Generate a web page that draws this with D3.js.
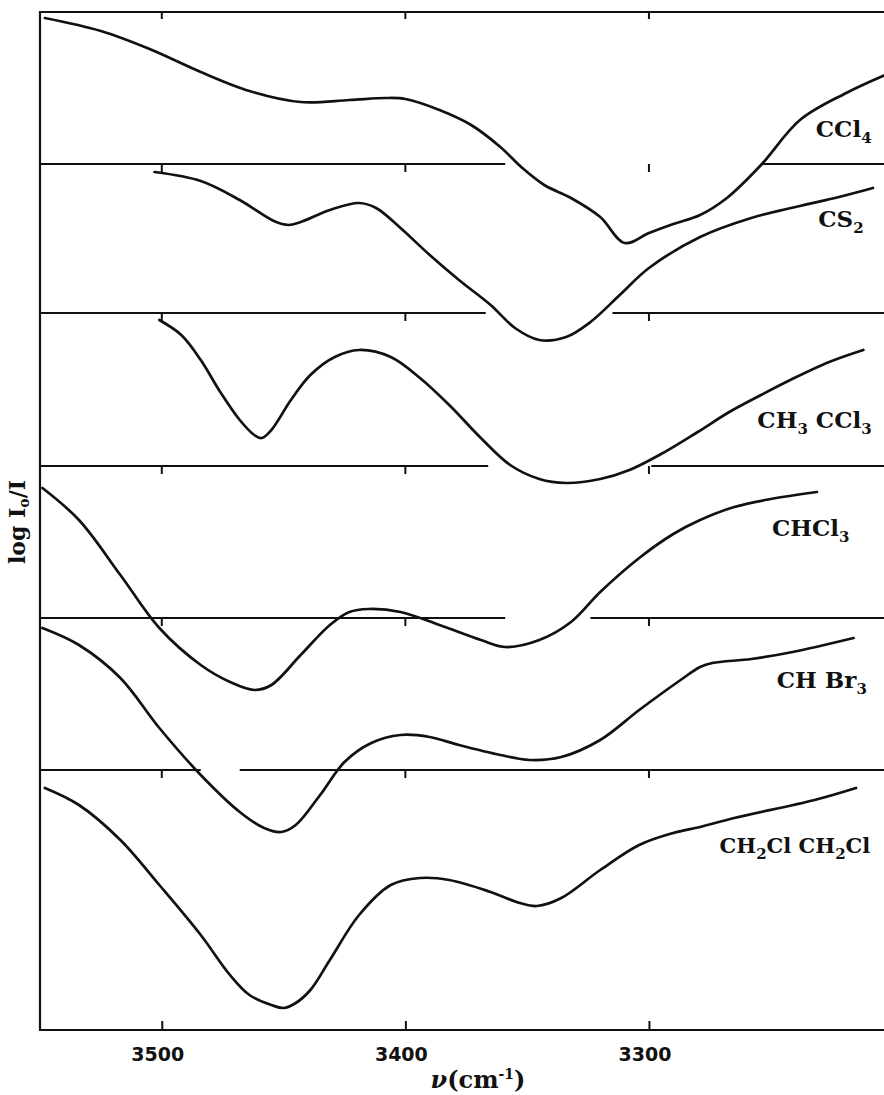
<!DOCTYPE html>
<html>
<head>
<meta charset="utf-8">
<script src="https://cdn.jsdelivr.net/npm/d3@7"></script>
<style>
  body { margin: 0; background: #fff; }
  svg { display: block; background: #fff; }
</style>
</head>
<body>
<svg id="chart"></svg>
<script>
// wavenumber (cm-1), stacked log I0/I
const ccl4 = [
  [3548, 10.12], [3525, 9.99], [3505, 9.81], [3484, 9.58], [3464, 9.39],
  [3443, 9.28], [3423, 9.3], [3408, 9.32], [3400, 9.31], [3386, 9.2],
  [3373, 9.05], [3361, 8.83], [3352, 8.62], [3343, 8.45], [3332, 8.32],
  [3320, 8.13], [3310, 7.87], [3300, 7.97], [3290, 8.06], [3279, 8.15],
  [3268, 8.32], [3254, 8.65], [3238, 9.1], [3219, 9.37], [3203, 9.55]
];
const cs2 = [
  [3503, 8.58], [3484, 8.49], [3468, 8.3], [3454, 8.09], [3448, 8.05],
  [3443, 8.08], [3431, 8.2], [3419, 8.27], [3412, 8.22], [3402, 8.02],
  [3390, 7.75], [3378, 7.5], [3365, 7.25], [3355, 7.02], [3345, 6.9],
  [3334, 6.93], [3324, 7.08], [3312, 7.35], [3300, 7.62], [3279, 7.93],
  [3258, 8.12], [3238, 8.24], [3222, 8.33], [3208, 8.42]
];
const ch3ccl3 = [
  [3501, 7.1], [3492, 6.95], [3484, 6.7], [3476, 6.38], [3468, 6.1],
  [3462, 5.95], [3459, 5.92], [3455, 6.0], [3447, 6.3], [3439, 6.55],
  [3429, 6.73], [3419, 6.8], [3406, 6.73], [3394, 6.52], [3382, 6.25],
  [3369, 5.92], [3357, 5.65], [3345, 5.51], [3334, 5.47], [3320, 5.51],
  [3308, 5.6], [3295, 5.76], [3280, 5.98], [3267, 6.18], [3254, 6.35],
  [3242, 6.5], [3226, 6.68], [3212, 6.8]
];
const chcl3 = [
  [3549, 5.42], [3534, 5.1], [3517, 4.55], [3501, 4.02], [3484, 3.65],
  [3472, 3.48], [3462, 3.4], [3455, 3.45], [3443, 3.75], [3431, 4.05],
  [3423, 4.18], [3415, 4.21], [3402, 4.18], [3386, 4.05], [3369, 3.9],
  [3359, 3.83], [3345, 3.9], [3332, 4.08], [3320, 4.38], [3304, 4.72],
  [3290, 4.96], [3279, 5.1], [3265, 5.23], [3250, 5.31], [3231, 5.38]
];
const chbr3 = [
  [3549, 4.02], [3534, 3.85], [3517, 3.52], [3501, 3.02], [3484, 2.55],
  [3468, 2.18], [3458, 2.02], [3451, 1.98], [3445, 2.05], [3435, 2.35],
  [3425, 2.68], [3414, 2.87], [3402, 2.95], [3390, 2.93], [3378, 2.85],
  [3361, 2.75], [3349, 2.7], [3336, 2.73], [3320, 2.9], [3304, 3.2],
  [3287, 3.5], [3279, 3.63], [3274, 3.67], [3258, 3.71], [3241, 3.78],
  [3216, 3.92]
];
const ch2clch2cl = [
  [3548, 2.42], [3534, 2.25], [3517, 1.9], [3501, 1.45], [3484, 0.95],
  [3472, 0.55], [3464, 0.35], [3455, 0.25], [3450, 0.22], [3445, 0.27],
  [3439, 0.4], [3431, 0.7], [3419, 1.15], [3406, 1.45], [3394, 1.52],
  [3382, 1.5], [3365, 1.38], [3353, 1.27], [3346, 1.24], [3336, 1.32],
  [3320, 1.6], [3304, 1.85], [3290, 1.97], [3279, 2.03], [3265, 2.12],
  [3232, 2.3], [3215, 2.42]
];

// label text, as [text, is_subscript] pieces
const names = [
  [["CCl", 0], ["4", 1]],
  [["CS", 0], ["2", 1]],
  [["CH", 0], ["3", 1], [" CCl", 0], ["3", 1]],
  [["CHCl", 0], ["3", 1]],
  [["CH Br", 0], ["3", 1]],
  [["CH", 0], ["2", 1], ["Cl CH", 0], ["2", 1], ["Cl", 0]]
];
const spectra = [ccl4, cs2, ch3ccl3, chcl3, chbr3, ch2clch2cl];

// zero lines of the stacked curves, and the stretches where they are drawn
const baselines = [8.66, 7.17, 5.64, 4.12, 2.6];
const baseline_runs = [
  [[3550, 3359], [3254, 3203.5]],
  [[3550, 3367], [3315, 3203.5]],
  [[3550, 3366], [3299, 3203.5]],
  [[3550, 3359], [3324, 3203.5]],
  [[3550, 3484], [3468, 3203.5]]
];
const x_ticks = [3500, 3400, 3300];

// where each label sits (wavenumber, log I0/I)
const label_at = [
  [3231.5, 8.93], [3230.5, 8.03], [3255.5, 6.02],
  [3249.5, 4.94], [3247.5, 3.42], [3271, 1.77]
];

const width = 884, height = 1095;
const margin = { top: 12, left: 40, bottom: 65 };

const svg = d3.select("#chart").attr("width", width).attr("height", height);

const x = d3.scaleLinear()
  .domain([3550, 3203.5])
  .range([margin.left, width]);

const y = d3.scaleLinear()
  .domain([0, 10.18])
  .range([height - margin.bottom, margin.top]);

const ink = "#111";

const line = d3.line()
  .x(function (d) { return x(d[0]); })
  .y(function (d) { return y(d[1]); })
  .curve(d3.curveCatmullRom.alpha(0.5));

// frame: top, left, bottom
svg.append("path")
  .attr("d", d3.line()([
    [width, y(10.18)], [x(3550), y(10.18)], [x(3550), y(0)], [width, y(0)]
  ]))
  .attr("fill", "none")
  .attr("stroke", ink)
  .attr("stroke-width", 2.2);

// top ticks (inward)
svg.append("g")
  .selectAll("line")
  .data(x_ticks)
  .enter()
  .append("line")
  .attr("x1", function (d) { return x(d); })
  .attr("x2", function (d) { return x(d); })
  .attr("y1", y(10.18))
  .attr("y2", y(10.18) + 7)
  .attr("stroke", ink)
  .attr("stroke-width", 2);

// bottom axis ticks and labels
const x_axis = svg.append("g")
  .attr("class", "x_axis")
  .attr("transform", "translate(0," + y(0) + ")")
  .call(d3.axisTop(x).tickValues(x_ticks).tickSize(9).tickSizeOuter(0).tickFormat(""));
x_axis.select(".domain").remove();
x_axis.selectAll("line").attr("stroke", ink).attr("stroke-width", 2);

svg.append("g")
  .selectAll("text")
  .data(x_ticks)
  .enter()
  .append("text")
  .attr("x", function (d) { return x(d) - 4; })
  .attr("y", y(0) + 31)
  .attr("text-anchor", "middle")
  .style("font-family", "DejaVu Sans, sans-serif")
  .style("font-weight", "bold")
  .style("font-size", "19px")
  .attr("fill", ink)
  .text(function (d) { return d; });

// baselines with their ticks
baselines.forEach(function (b, i) {
  const g = svg.append("g").attr("class", "baseline");
  g.selectAll("path")
    .data(baseline_runs[i])
    .enter()
    .append("path")
    .attr("d", function (r) { return d3.line()([[x(r[0]), y(b)], [x(r[1]), y(b)]]); })
    .attr("stroke", ink)
    .attr("stroke-width", 2);
  g.selectAll("line")
    .data(x_ticks)
    .enter()
    .append("line")
    .attr("x1", function (d) { return x(d); })
    .attr("x2", function (d) { return x(d); })
    .attr("y1", y(b))
    .attr("y2", y(b) + 8)
    .attr("stroke", ink)
    .attr("stroke-width", 2);
});

// the spectra
svg.append("g")
  .selectAll("path")
  .data(spectra)
  .enter()
  .append("path")
  .attr("d", line)
  .attr("fill", "none")
  .attr("stroke", ink)
  .attr("stroke-width", 2.7)
  .attr("stroke-linejoin", "round")
  .attr("stroke-linecap", "round");

// curve labels
names.forEach(function (parts, i) {
  const t = svg.append("text")
    .attr("x", x(label_at[i][0]))
    .attr("y", y(label_at[i][1]))
    .style("font-family", "DejaVu Serif, serif")
    .style("font-weight", "bold")
    .style("font-size", i == 5 ? "21px" : "23px")
    .attr("fill", ink);
  parts.forEach(function (p) {
    const s = t.append("tspan").text(p[0]);
    if (p[1]) s.attr("dy", 6).style("font-size", "15px");
    else s.attr("dy", t.selectAll("tspan").size() > 1 ? -6 : 0);
  });
});

// y label
const y_label = svg.append("text")
  .attr("transform", "translate(25," + 522 + ") rotate(-90)")
  .attr("text-anchor", "middle")
  .style("font-family", "DejaVu Serif, serif")
  .style("font-weight", "bold")
  .style("font-size", "22px")
  .attr("fill", ink);
y_label.append("tspan").text("log I");
y_label.append("tspan").text("o").attr("dy", 4).style("font-size", "14px");
y_label.append("tspan").text("/I").attr("dy", -4);

// x label
const x_label = svg.append("text")
  .attr("x", 478)
  .attr("y", y(0) + 58)
  .attr("text-anchor", "middle")
  .style("font-family", "DejaVu Serif, serif")
  .style("font-weight", "bold")
  .style("font-size", "24px")
  .attr("fill", ink);
x_label.append("tspan").text("ν").style("font-style", "italic");
x_label.append("tspan").text("(cm");
x_label.append("tspan").text("-1").attr("dy", -9).style("font-size", "14px");
x_label.append("tspan").text(")").attr("dy", 9);
</script>
</body>
</html>
